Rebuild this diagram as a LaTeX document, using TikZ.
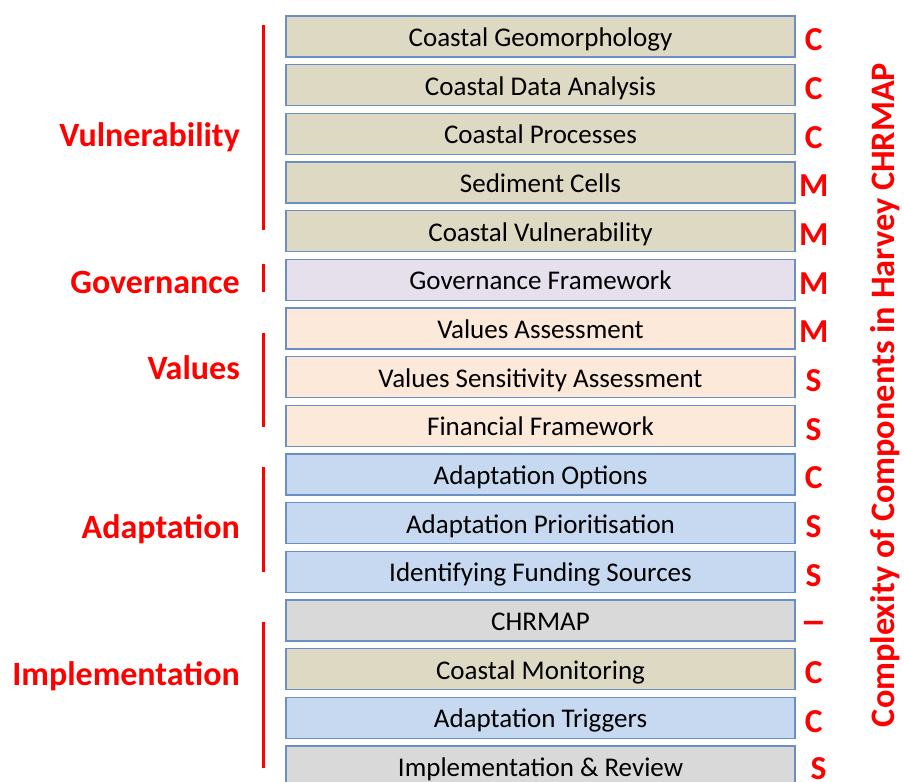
\documentclass[tikz,border=0pt]{standalone}
\usepackage{fontspec}
\setmainfont{Carlito}
\definecolor{tanbox}{HTML}{DDD9C3}
\definecolor{lilacbox}{HTML}{E5E0EC}
\definecolor{peachbox}{HTML}{FDE9D9}
\definecolor{bluebox}{HTML}{C6D9F1}
\definecolor{greybox}{HTML}{D9D9D9}
\definecolor{boxline}{HTML}{6A8FC7}
\definecolor{hot}{HTML}{FF0000}
\tikzset{
  comp/.style={draw=boxline, line width=1.3pt, minimum width=509pt,
    minimum height=41pt, inner sep=0pt, text height=20pt, text depth=0pt,
    font=\fontsize{27}{32}\selectfont},
  rating/.style={text=hot, inner sep=0pt, text height=21.5pt, text depth=0pt,
    font=\fontsize{33.5}{38}\selectfont\bfseries},
  group/.style={text=hot, anchor=east, inner sep=0pt,
    font=\fontsize{34}{38}\selectfont\bfseries},
  bar/.style={draw=hot, line width=3pt}
}
\begin{document}
\begin{tikzpicture}[x=1pt,y=-1pt]
        \useasboundingbox (0,0) rectangle (904,781);

        % draw component boxes and complexity ratings
        \foreach \i/\txt/\col/\lvl in {
            0/Coastal Geomorphology/tanbox/C,
            1/Coastal Data Analysis/tanbox/C,
            2/Coastal Processes/tanbox/C,
            3/Sediment Cells/tanbox/M,
            4/Coastal Vulnerability/tanbox/M,
            5/Governance Framework/lilacbox/M,
            6/Values Assessment/peachbox/M,
            7/Values Sensitivity Assessment/peachbox/S,
            8/Financial Framework/peachbox/S,
            9/Adaptation Options/bluebox/C,
            10/Adaptation Prioritisation/bluebox/S,
            11/Identifying Funding Sources/bluebox/S,
            12/CHRMAP/greybox/\scalebox{1.6}[1.2]{\textendash},
            13/Coastal Monitoring/tanbox/C,
            14/Adaptation Triggers/bluebox/C}
          {
          \node[comp, fill=\col] (b\i) at (540.5,36.5+48.67*\i) {\txt};
          \node[rating] (r\i) at ([xshift=18pt,yshift=-3.5pt]b\i.east) {\lvl};
          }
        \node[comp, fill=greybox] (b15) at (540.5,766.5) {Implementation \& Review};
        \node[rating] (r15) at ([xshift=23pt,yshift=-2.5pt]b15.east) {S};

        % draw group bars
        \draw[bar] (263,25) -- (263,230);
        \draw[bar] (263,264) -- (263,292);
        \draw[bar] (263,333) -- (263,427);
        \draw[bar] (263,467) -- (263,572);
        \draw[bar] (263,622) -- (263,768);

        % draw group names
        \node[group] (vul) at (240,137) {Vulnerability};
        \node[group] (gov) at (240,282) {Governance};
        \node[group] (val) at (240,368) {Values};
        \node[group] (ada) at (240,529) {Adaptation};
        \node[group] (imp) at (240,676) {Implementation};

        % draw title
        \node[group, anchor=center, rotate=90, font=\fontsize{34.3}{38}\selectfont\bfseries]
          (ttl) at (885,395) {Complexity of Components in Harvey CHRMAP};
        \end{tikzpicture}
\end{document}
